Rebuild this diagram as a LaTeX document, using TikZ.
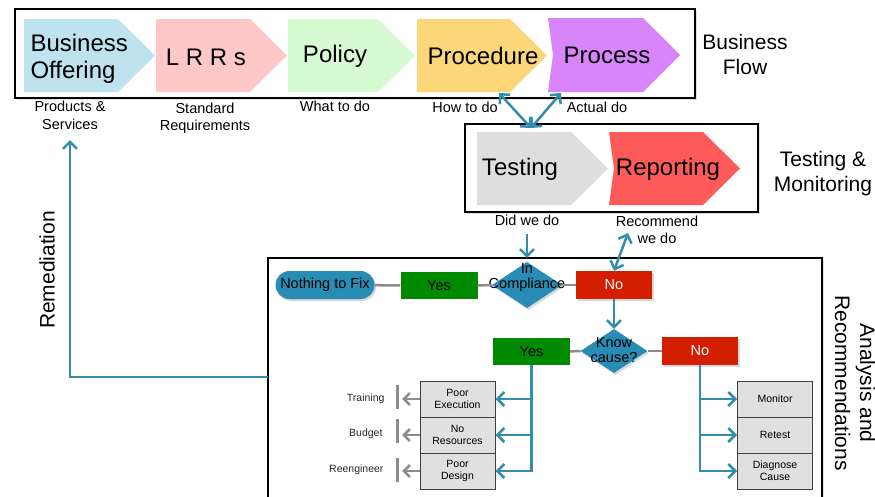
\documentclass[tikz,border=0pt]{standalone}
\usepackage{fontspec}
\setmainfont{Liberation Sans}
\usetikzlibrary{shapes.geometric,arrows.meta,shadows}

\definecolor{offerblue}{RGB}{190,226,238}
\definecolor{lrrpink}{RGB}{255,200,200}
\definecolor{policygreen}{RGB}{214,250,210}
\definecolor{procyellow}{RGB}{252,215,122}
\definecolor{processviolet}{RGB}{216,132,250}
\definecolor{testgrey}{RGB}{222,222,222}
\definecolor{reportred}{RGB}{255,90,90}
\definecolor{arrowteal}{RGB}{50,142,172}
\definecolor{fixteal}{RGB}{40,140,180}
\definecolor{yesgreen}{RGB}{0,138,0}
\definecolor{nored}{RGB}{212,30,0}
\definecolor{boxgrey}{RGB}{224,224,224}
\definecolor{linkgrey}{RGB}{140,140,140}

\begin{document}
\begin{tikzpicture}[x=1pt,y=-1pt,
    frame/.style={draw=black,line width=1.2pt,fill=white,drop shadow={opacity=0.25,shadow xshift=2pt,shadow yshift=-2pt}},
    big/.style={font=\fontsize{24}{27}\selectfont},
    side/.style={font=\fontsize{21}{25}\selectfont,align=center},
    lbl/.style={font=\fontsize{14.5}{17.5}\selectfont,align=center},
    flow/.style={font=\fontsize{14.5}{15}\selectfont,align=center},
    small/.style={font=\fontsize{10.5}{12}\selectfont,align=center},
    pill/.style={rectangle,rounded corners=14pt,fill=fixteal,minimum width=99pt,minimum height=28pt,inner sep=0pt,flow,drop shadow={opacity=0.3,shadow xshift=1.5pt,shadow yshift=-2pt}},
    yesbox/.style={rectangle,fill=yesgreen,minimum width=77pt,minimum height=27pt,inner sep=0pt,flow},
    nobox/.style={rectangle,fill=nored,text=white,minimum width=76pt,minimum height=28pt,inner sep=0pt,flow,drop shadow={opacity=0.3,shadow xshift=1.5pt,shadow yshift=-2pt}},
    dia/.style={diamond,fill=fixteal,inner sep=0pt,drop shadow={opacity=0.3,shadow xshift=1.5pt,shadow yshift=-2pt}},
    cbox/.style={rectangle,draw=black!75,line width=1pt,fill=boxgrey,minimum width=75pt,minimum height=36pt,inner sep=0pt,small},
    gbar/.style={rectangle,fill=linkgrey,minimum width=3pt,minimum height=24pt,inner sep=0pt},
    link/.style={draw=linkgrey,line width=2.5pt},
    tarrow/.style={draw=arrowteal,line width=2.5pt,-{Straight Barb[length=7pt,width=14pt]}},
    tboth/.style={draw=arrowteal,line width=2.5pt,{Straight Barb[length=7pt,width=14pt]}-{Straight Barb[length=7pt,width=14pt]}},
    garrow/.style={draw=linkgrey,line width=2.5pt,-{Straight Barb[length=6pt,width=12pt]}}]
    \useasboundingbox (0,0) rectangle (875,496);

    % Business flow
    \draw[frame] (15,9) rectangle (695,98);
    \fill[offerblue] (24,19) -- (118,19) -- (155,55.5) -- (118,92) -- (24,92) -- cycle;
    \fill[lrrpink] (156,19) -- (250,19) -- (287,55.5) -- (250,92) -- (156,92) -- cycle;
    \fill[policygreen] (288,19) -- (378,19) -- (415,55.5) -- (378,92) -- (288,92) -- cycle;
    \fill[procyellow] (417,19) -- (510,19) -- (547,55.5) -- (510,92) -- (417,92) -- cycle;
    \fill[processviolet] (548,18) -- (643,18) -- (680,55) -- (643,92) -- (548,92) -- (553,55) -- cycle;
    \node[big,align=left,anchor=west] (offer) at (27,58.5) {Business\\Offering};
    \node[big] (lrrs) at (206,57) {L R R s};
    \node[big] (policy) at (335,56) {Policy};
    \node[big] (proced) at (483,56) {Procedure};
    \node[big] (process) at (607,55) {Process};
    \node[side] (flowlbl) at (745,54) {Business\\Flow};

    \node[lbl] (prodlbl) at (70,115.5) {Products \&\\Services};
    \node[lbl] (stdlbl) at (205,118) {Standard\\Requirements};
    \node[lbl] (whatlbl) at (335,106.5) {What to do};
    \node[lbl] (howlbl) at (465,107.5) {How to do};
    \node[lbl] (actlbl) at (597,107.5) {Actual do};

    % Testing and monitoring
    \draw[frame] (465,124) rectangle (758,212);
    \fill[testgrey] (477,132) -- (571,132) -- (608,168.5) -- (571,205) -- (477,205) -- cycle;
    \fill[reportred] (609,132) -- (703,132) -- (740,168.5) -- (703,205) -- (609,205) -- (614,168.5) -- cycle;
    \node[big] (testing) at (520,169) {Testing};
    \node[big] (report) at (668,169) {Reporting};
    \node[side] (testlbl) at (823,174) {Testing \&\\Monitoring};

    \node[lbl] (didlbl) at (527,220.5) {Did we do};
    \node[lbl] (reclbl) at (657,230) {Recommend\\we do};

    \coordinate (howA) at (499,93);
    \coordinate (actA) at (561,93);
    \coordinate (testIn) at (531,128);
    \draw[tboth] (howA) -- (testIn);
    \draw[tboth] (actA) -- (testIn);

    % Analysis and recommendations
    \draw[frame] (268,500) -- (268,258) -- (822,258) -- (822,500);
    \node[side,rotate=-90] (anlbl) at (855,383) {Analysis and\\Recommendations};
    \node[side,rotate=90] (remlbl) at (47,270) {Remediation};

    \node[pill] (fix) at (325,285) {Nothing to Fix};
    \node[yesbox] (yes1) at (439,285.5) {Yes};
    \node[dia,minimum width=70pt,minimum height=46pt] (comp) at (527,285) {};
    \node[flow] (comptxt) at (527,277.5) {In\\Compliance};
    \node[nobox] (no1) at (614,285) {No};
    \node[dia,minimum width=67pt,minimum height=44pt] (cause) at (614,351) {};
    \node[flow] (causetxt) at (614,350.5) {Know\\cause?};
    \node[yesbox] (yes2) at (531.5,351.5) {Yes};
    \node[nobox] (no2) at (700,351) {No};

    \draw[link] (fix) -- (yes1);
    \draw[link] (yes1) -- (comp);
    \draw[link] (comp) -- (no1);
    \draw[link] (yes2) -- (cause);
    \draw[link] (cause) -- (no2);
    \draw[tarrow] (no1.south) -- (cause.north);
    \draw[tarrow,shorten <=5pt,shorten >=4pt] (didlbl.south) -- (comp.north);
    \coordinate (recA) at (628,233);
    \draw[tboth] (no1.north) -- (recA);

    % causes and actions
    \node[cbox] (pexe) at (457.5,399) {Poor\\Execution};
    \node[cbox] (nores) at (457.5,435) {No\\Resources};
    \node[cbox] (pdes) at (457.5,471) {Poor\\Design};
    \node[cbox] (mon) at (775,399) {Monitor};
    \node[cbox] (ret) at (775,435) {Retest};
    \node[cbox] (diag) at (775,471) {Diagnose\\Cause};

    \draw[tarrow] (yes2.south) |- (pdes.east);
    \draw[tarrow] (yes2.south |- pexe.east) -- (pexe.east);
    \draw[tarrow] (yes2.south |- nores.east) -- (nores.east);
    \draw[tarrow] (no2.south) |- (diag.west);
    \draw[tarrow] (no2.south |- mon.west) -- (mon.west);
    \draw[tarrow] (no2.south |- ret.west) -- (ret.west);

    \node[gbar] (bar1) at (397.5,397) {};
    \node[gbar] (bar2) at (397.5,431) {};
    \node[gbar] (bar3) at (397.5,469.5) {};
    \draw[garrow,shorten >=3pt] (pexe.west) -- (bar1.east |- pexe.west);
    \draw[garrow,shorten >=3pt] (nores.west) -- (bar2.east |- nores.west);
    \draw[garrow,shorten >=3pt] (pdes.west) -- (bar3.east |- pdes.west);
    \node[small,anchor=east,text=black!85] (trn) at (388,399) {Training};
    \node[small,anchor=east,text=black!85] (bud) at (386,434) {Budget};
    \node[small,anchor=east,text=black!85] (reeng) at (387,470) {Reengineer};

    % remediation loop
    \coordinate (remStart) at (268,377);
    \coordinate (remEnd) at (70,140);
    \draw[tarrow] (remStart) -| (remEnd);
\end{tikzpicture}
\end{document}
